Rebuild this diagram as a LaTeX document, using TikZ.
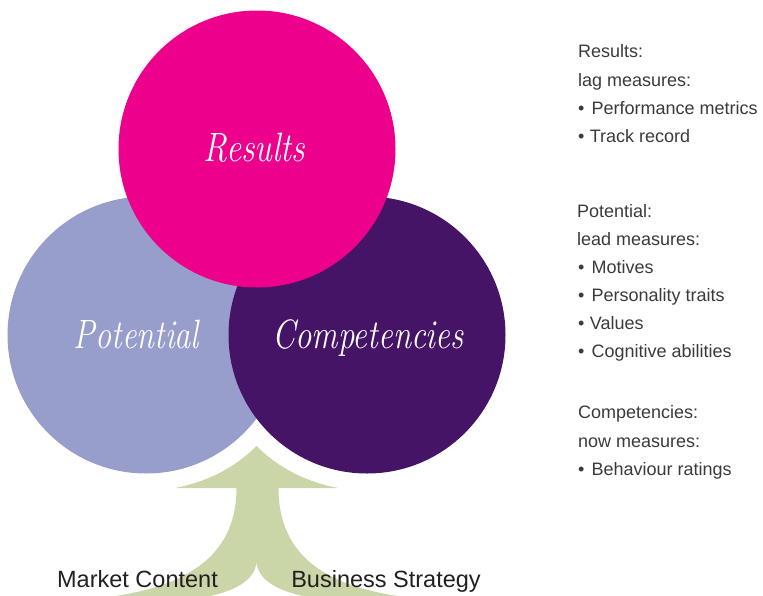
\documentclass[tikz,border=0pt]{standalone}
\usepackage{fontspec}
\usepackage{graphicx}
\newfontfamily\sansf{Liberation Sans}
\definecolor{respink}{HTML}{EC008C}
\definecolor{potlav}{HTML}{989ECC}
\definecolor{compurple}{HTML}{451466}
\definecolor{arrowgreen}{HTML}{CBD6A8}
\definecolor{sidegray}{HTML}{3A3A3A}
\definecolor{labelgray}{HTML}{231F20}
\begin{document}
\begin{tikzpicture}[x=1pt,y=-1pt,
  bubble/.style={circle, inner sep=0pt, minimum size=277pt, draw=none},
  bubblelabel/.style={anchor=base, text=white, inner sep=0pt, font=\fontsize{41}{48}\selectfont\itshape},
  sidetext/.style={anchor=base west, inner sep=0pt, text=sidegray, font=\sansf\fontsize{18}{21}\selectfont},
  bottomtext/.style={anchor=base, inner sep=0pt, text=labelgray, font=\sansf\fontsize{23.5}{27}\selectfont}]
\useasboundingbox (0,0) rectangle (763,595);
\clip (0,0) rectangle (763,595);
% circles
\node[bubble, fill=potlav] (pot) at (146,335) {};
\node[bubble, fill=compurple] (comp) at (367,335) {};
\node[bubble, fill=respink] (res) at (257,149) {};
% circle labels
\node[bubblelabel] (resL) at (254.5,161) {\scalebox{0.82}[1]{Results}};
\node[bubblelabel] (potL) at (136.5,348) {\scalebox{0.79}[1]{Potential}};
\node[bubblelabel] (compL) at (368,348) {\scalebox{0.80}[1]{Competencies}};
% arrow
\fill[arrowgreen]
  (256.5,446) .. controls (234.2,468.3) and (206.1,482.1) .. (175,488)
  -- (236.5,488)
  .. controls (236.5,550) and (195,588) .. (99,598)
  -- (200,598)
  .. controls (235,592) and (256.5,580) .. (256.5,560)
  .. controls (256.5,580) and (278,592) .. (313,598)
  -- (414,598)
  .. controls (318,588) and (278.5,550) .. (278.5,488)
  -- (338,488)
  .. controls (306.9,482.1) and (278.8,468.3) .. (256.5,446) -- cycle;
% bottom labels
\node[bottomtext] (mkt) at (137.5,587) {Market Content};
\node[bottomtext] (biz) at (386,587) {Business Strategy};
% side texts
\node[sidetext] (t1) at (578,57) {Results:};
\node[sidetext] (t2) at (578,86) {lag measures:};
\node[sidetext] (t3) at (578,114) {•\hspace{0.4em}Performance metrics};
\node[sidetext] (t4) at (578,142) {•\hspace{0.3em}Track record};
\node[sidetext] (t5) at (577,217) {Potential:};
\node[sidetext] (t6) at (577,245) {lead measures:};
\node[sidetext] (t7) at (578,273) {•\hspace{0.4em}Motives};
\node[sidetext] (t8) at (578,301) {•\hspace{0.4em}Personality traits};
\node[sidetext] (t9) at (578,329) {•\hspace{0.3em}Values};
\node[sidetext] (t10) at (578,357) {•\hspace{0.4em}Cognitive abilities};
\node[sidetext] (t11) at (578,418) {Competencies:};
\node[sidetext] (t12) at (578,447) {now measures:};
\node[sidetext] (t13) at (578,475) {•\hspace{0.4em}Behaviour ratings};
\end{tikzpicture}
\end{document}
